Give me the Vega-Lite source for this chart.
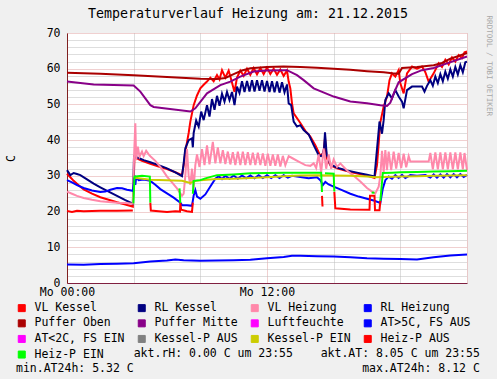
{
"$schema": "https://vega.github.io/schema/vega-lite/v6.json",
"width": 400, "height": 250,
"autosize": {"type": "none"},
"padding": {"left": 67, "top": 33, "right": 30, "bottom": 96},
"background": "#F0F0F0",
"config": {"view": {"fill": "white", "stroke": null}, "font": "DejaVu Sans Mono"},
"title": {"text": "Temperaturverlauf Heizung am: 21.12.2015", "font": "DejaVu Sans Mono", "fontSize": 13.3, "fontWeight": "normal", "color": "black", "anchor": "middle", "frame": "group", "dx": -19, "offset": -5},
"data": {"values": [
{"k":"VL Kessel","s":1,"t":0,"v":30.6},{"k":"VL Kessel","s":1,"t":0.2,"v":29.6},{"k":"VL Kessel","s":1,"t":0.4,"v":28.6},{"k":"VL Kessel","s":1,"t":0.7,"v":27.4},{"k":"VL Kessel","s":1,"t":1,"v":26.2},{"k":"VL Kessel","s":1,"t":1.5,"v":25},{"k":"VL Kessel","s":1,"t":2,"v":24},{"k":"VL Kessel","s":1,"t":2.5,"v":23.3},{"k":"VL Kessel","s":1,"t":3,"v":22.6},{"k":"VL Kessel","s":1,"t":3.5,"v":22},{"k":"VL Kessel","s":1,"t":3.95,"v":21.4},{"k":"VL Kessel","s":1,"t":4.05,"v":35.2},{"k":"VL Kessel","s":1,"t":4.5,"v":34.2},{"k":"VL Kessel","s":1,"t":5,"v":33.4},{"k":"VL Kessel","s":1,"t":5.5,"v":32.6},{"k":"VL Kessel","s":1,"t":6,"v":31.9},{"k":"VL Kessel","s":1,"t":6.5,"v":31},{"k":"VL Kessel","s":1,"t":6.9,"v":30.2},{"k":"VL Kessel","s":1,"t":7.0,"v":33},{"k":"VL Kessel","s":1,"t":7.1,"v":36.8},{"k":"VL Kessel","s":1,"t":7.3,"v":42},{"k":"VL Kessel","s":1,"t":7.4,"v":45.2},{"k":"VL Kessel","s":1,"t":7.6,"v":49.8},{"k":"VL Kessel","s":1,"t":7.8,"v":52.5},{"k":"VL Kessel","s":1,"t":8.0,"v":54.5},{"k":"VL Kessel","s":1,"t":8.2,"v":55.5},{"k":"VL Kessel","s":1,"t":8.4,"v":56.4},{"k":"VL Kessel","s":1,"t":8.6,"v":57.5},{"k":"VL Kessel","s":1,"t":8.8,"v":56.5},{"k":"VL Kessel","s":1,"t":9.0,"v":58.2},{"k":"VL Kessel","s":1,"t":9.15,"v":57},{"k":"VL Kessel","s":1,"t":9.3,"v":59.6},{"k":"VL Kessel","s":1,"t":9.5,"v":57.5},{"k":"VL Kessel","s":1,"t":9.7,"v":59.5},{"k":"VL Kessel","s":1,"t":9.85,"v":57},{"k":"VL Kessel","s":1,"t":10.05,"v":53.5},{"k":"VL Kessel","s":1,"t":10.2,"v":57.5},{"k":"VL Kessel","s":1,"t":10.4,"v":59.5},{"k":"VL Kessel","s":1,"t":10.6,"v":58},{"k":"VL Kessel","s":1,"t":10.8,"v":60},{"k":"VL Kessel","s":1,"t":11.0,"v":58.3},{"k":"VL Kessel","s":1,"t":11.2,"v":60.2},{"k":"VL Kessel","s":1,"t":11.4,"v":58.4},{"k":"VL Kessel","s":1,"t":11.6,"v":60.2},{"k":"VL Kessel","s":1,"t":11.8,"v":58.5},{"k":"VL Kessel","s":1,"t":12.0,"v":60.3},{"k":"VL Kessel","s":1,"t":12.2,"v":58.5},{"k":"VL Kessel","s":1,"t":12.4,"v":60},{"k":"VL Kessel","s":1,"t":12.6,"v":58.3},{"k":"VL Kessel","s":1,"t":12.8,"v":59.8},{"k":"VL Kessel","s":1,"t":13.0,"v":58},{"k":"VL Kessel","s":1,"t":13.2,"v":59.5},{"k":"VL Kessel","s":1,"t":13.3,"v":56.4},{"k":"VL Kessel","s":1,"t":13.4,"v":54.5},{"k":"VL Kessel","s":1,"t":13.5,"v":50.3},{"k":"VL Kessel","s":1,"t":13.6,"v":47.5},{"k":"VL Kessel","s":1,"t":14.0,"v":44.8},{"k":"VL Kessel","s":1,"t":14.3,"v":42.6},{"k":"VL Kessel","s":1,"t":14.6,"v":41},{"k":"VL Kessel","s":1,"t":14.9,"v":38.6},{"k":"VL Kessel","s":1,"t":15.2,"v":35.6},{"k":"VL Kessel","s":1,"t":15.4,"v":36.5},{"k":"VL Kessel","s":1,"t":15.48,"v":40.6},{"k":"VL Kessel","s":1,"t":15.58,"v":35},{"k":"VL Kessel","s":1,"t":15.8,"v":33},{"k":"VL Kessel","s":1,"t":16.2,"v":32.1},{"k":"VL Kessel","s":1,"t":17,"v":31.1},{"k":"VL Kessel","s":1,"t":18,"v":30.1},{"k":"VL Kessel","s":1,"t":18.45,"v":29.4},{"k":"VL Kessel","s":1,"t":18.6,"v":33},{"k":"VL Kessel","s":1,"t":18.8,"v":45},{"k":"VL Kessel","s":1,"t":19.0,"v":49.4},{"k":"VL Kessel","s":1,"t":19.2,"v":52.2},{"k":"VL Kessel","s":1,"t":19.35,"v":56.8},{"k":"VL Kessel","s":1,"t":19.5,"v":58.7},{"k":"VL Kessel","s":1,"t":19.7,"v":57.8},{"k":"VL Kessel","s":1,"t":19.9,"v":59.6},{"k":"VL Kessel","s":1,"t":20.0,"v":55.9},{"k":"VL Kessel","s":1,"t":20.2,"v":53.1},{"k":"VL Kessel","s":1,"t":20.4,"v":58.7},{"k":"VL Kessel","s":1,"t":20.7,"v":60.6},{"k":"VL Kessel","s":1,"t":21.0,"v":60},{"k":"VL Kessel","s":1,"t":21.3,"v":60.6},{"k":"VL Kessel","s":1,"t":21.5,"v":59},{"k":"VL Kessel","s":1,"t":21.7,"v":56.4},{"k":"VL Kessel","s":1,"t":22.0,"v":58.7},{"k":"VL Kessel","s":1,"t":22.3,"v":61.5},{"k":"VL Kessel","s":1,"t":22.5,"v":60.5},{"k":"VL Kessel","s":1,"t":22.7,"v":62.5},{"k":"VL Kessel","s":1,"t":22.9,"v":61.2},{"k":"VL Kessel","s":1,"t":23.1,"v":63.2},{"k":"VL Kessel","s":1,"t":23.3,"v":62},{"k":"VL Kessel","s":1,"t":23.5,"v":63.8},{"k":"VL Kessel","s":1,"t":23.7,"v":63},{"k":"VL Kessel","s":1,"t":23.85,"v":64.6},{"k":"VL Kessel","s":1,"t":24.0,"v":64.8},
{"k":"RL Kessel","s":1,"t":0,"v":31.6},{"k":"RL Kessel","s":1,"t":0.2,"v":30.2},{"k":"RL Kessel","s":1,"t":0.4,"v":30.8},{"k":"RL Kessel","s":1,"t":0.6,"v":30.5},{"k":"RL Kessel","s":1,"t":0.8,"v":30.2},{"k":"RL Kessel","s":1,"t":1.2,"v":29},{"k":"RL Kessel","s":1,"t":1.6,"v":27.8},{"k":"RL Kessel","s":1,"t":2,"v":26.8},{"k":"RL Kessel","s":1,"t":2.5,"v":25.6},{"k":"RL Kessel","s":1,"t":3,"v":24.4},{"k":"RL Kessel","s":1,"t":3.5,"v":23.2},{"k":"RL Kessel","s":1,"t":3.95,"v":22.2},{"k":"RL Kessel","s":1,"t":4.02,"v":35.4},{"k":"RL Kessel","s":1,"t":4.3,"v":35},{"k":"RL Kessel","s":1,"t":4.6,"v":34.4},{"k":"RL Kessel","s":1,"t":5,"v":33.8},{"k":"RL Kessel","s":1,"t":5.5,"v":33},{"k":"RL Kessel","s":1,"t":6,"v":32.1},{"k":"RL Kessel","s":1,"t":6.5,"v":31},{"k":"RL Kessel","s":1,"t":6.9,"v":29.9},{"k":"RL Kessel","s":1,"t":7.0,"v":33.5},{"k":"RL Kessel","s":1,"t":7.1,"v":37.7},{"k":"RL Kessel","s":1,"t":7.3,"v":40},{"k":"RL Kessel","s":1,"t":7.5,"v":40.5},{"k":"RL Kessel","s":1,"t":7.55,"v":38},{"k":"RL Kessel","s":1,"t":7.6,"v":42},{"k":"RL Kessel","s":1,"t":7.75,"v":45.5},{"k":"RL Kessel","s":1,"t":7.9,"v":43.8},{"k":"RL Kessel","s":1,"t":8.05,"v":48},{"k":"RL Kessel","s":1,"t":8.2,"v":45.6},{"k":"RL Kessel","s":1,"t":8.4,"v":49.8},{"k":"RL Kessel","s":1,"t":8.55,"v":46.6},{"k":"RL Kessel","s":1,"t":8.7,"v":51.5},{"k":"RL Kessel","s":1,"t":8.85,"v":48.5},{"k":"RL Kessel","s":1,"t":9.0,"v":52.4},{"k":"RL Kessel","s":1,"t":9.15,"v":49.6},{"k":"RL Kessel","s":1,"t":9.3,"v":53},{"k":"RL Kessel","s":1,"t":9.45,"v":50.8},{"k":"RL Kessel","s":1,"t":9.6,"v":53.5},{"k":"RL Kessel","s":1,"t":9.75,"v":51.2},{"k":"RL Kessel","s":1,"t":9.9,"v":53.5},{"k":"RL Kessel","s":1,"t":10.05,"v":49.8},{"k":"RL Kessel","s":1,"t":10.2,"v":55},{"k":"RL Kessel","s":1,"t":10.35,"v":53.2},{"k":"RL Kessel","s":1,"t":10.5,"v":56.5},{"k":"RL Kessel","s":1,"t":10.65,"v":53.5},{"k":"RL Kessel","s":1,"t":10.8,"v":56.6},{"k":"RL Kessel","s":1,"t":10.95,"v":53.6},{"k":"RL Kessel","s":1,"t":11.1,"v":56.8},{"k":"RL Kessel","s":1,"t":11.25,"v":53.6},{"k":"RL Kessel","s":1,"t":11.4,"v":56.8},{"k":"RL Kessel","s":1,"t":11.55,"v":53.8},{"k":"RL Kessel","s":1,"t":11.7,"v":56.8},{"k":"RL Kessel","s":1,"t":11.85,"v":53.6},{"k":"RL Kessel","s":1,"t":12.0,"v":56.6},{"k":"RL Kessel","s":1,"t":12.15,"v":53.5},{"k":"RL Kessel","s":1,"t":12.3,"v":56.5},{"k":"RL Kessel","s":1,"t":12.45,"v":53.4},{"k":"RL Kessel","s":1,"t":12.6,"v":56.4},{"k":"RL Kessel","s":1,"t":12.75,"v":53.3},{"k":"RL Kessel","s":1,"t":12.9,"v":56.2},{"k":"RL Kessel","s":1,"t":13.05,"v":53.4},{"k":"RL Kessel","s":1,"t":13.2,"v":55.6},{"k":"RL Kessel","s":1,"t":13.3,"v":50.3},{"k":"RL Kessel","s":1,"t":13.45,"v":49.8},{"k":"RL Kessel","s":1,"t":13.6,"v":45.2},{"k":"RL Kessel","s":1,"t":13.8,"v":43.8},{"k":"RL Kessel","s":1,"t":14.0,"v":44.2},{"k":"RL Kessel","s":1,"t":14.2,"v":42.8},{"k":"RL Kessel","s":1,"t":14.5,"v":41.6},{"k":"RL Kessel","s":1,"t":14.8,"v":38.6},{"k":"RL Kessel","s":1,"t":15.1,"v":35.8},{"k":"RL Kessel","s":1,"t":15.3,"v":35.5},{"k":"RL Kessel","s":1,"t":15.42,"v":37.5},{"k":"RL Kessel","s":1,"t":15.48,"v":42.2},{"k":"RL Kessel","s":1,"t":15.58,"v":36},{"k":"RL Kessel","s":1,"t":15.8,"v":33.2},{"k":"RL Kessel","s":1,"t":16.2,"v":32.3},{"k":"RL Kessel","s":1,"t":16.8,"v":31.5},{"k":"RL Kessel","s":1,"t":17.4,"v":30.9},{"k":"RL Kessel","s":1,"t":18,"v":30.3},{"k":"RL Kessel","s":1,"t":18.45,"v":29.8},{"k":"RL Kessel","s":1,"t":18.55,"v":35},{"k":"RL Kessel","s":1,"t":18.65,"v":40},{"k":"RL Kessel","s":1,"t":18.75,"v":45.2},{"k":"RL Kessel","s":1,"t":18.85,"v":43},{"k":"RL Kessel","s":1,"t":18.9,"v":41.8},{"k":"RL Kessel","s":1,"t":19.0,"v":45.6},{"k":"RL Kessel","s":1,"t":19.1,"v":51.2},{"k":"RL Kessel","s":1,"t":19.3,"v":53.1},{"k":"RL Kessel","s":1,"t":19.5,"v":51.7},{"k":"RL Kessel","s":1,"t":19.7,"v":54},{"k":"RL Kessel","s":1,"t":19.9,"v":52.2},{"k":"RL Kessel","s":1,"t":20.1,"v":50.8},{"k":"RL Kessel","s":1,"t":20.2,"v":48.9},{"k":"RL Kessel","s":1,"t":20.4,"v":54},{"k":"RL Kessel","s":1,"t":20.7,"v":55},{"k":"RL Kessel","s":1,"t":21.0,"v":55},{"k":"RL Kessel","s":1,"t":21.3,"v":55},{"k":"RL Kessel","s":1,"t":21.45,"v":53.6},{"k":"RL Kessel","s":1,"t":21.6,"v":55.2},{"k":"RL Kessel","s":1,"t":21.8,"v":56.8},{"k":"RL Kessel","s":1,"t":21.95,"v":55.2},{"k":"RL Kessel","s":1,"t":22.1,"v":57.8},{"k":"RL Kessel","s":1,"t":22.25,"v":56},{"k":"RL Kessel","s":1,"t":22.4,"v":58.5},{"k":"RL Kessel","s":1,"t":22.55,"v":56.5},{"k":"RL Kessel","s":1,"t":22.7,"v":59.2},{"k":"RL Kessel","s":1,"t":22.85,"v":57.2},{"k":"RL Kessel","s":1,"t":23.0,"v":59.8},{"k":"RL Kessel","s":1,"t":23.15,"v":57.8},{"k":"RL Kessel","s":1,"t":23.3,"v":60.5},{"k":"RL Kessel","s":1,"t":23.45,"v":58.4},{"k":"RL Kessel","s":1,"t":23.6,"v":61},{"k":"RL Kessel","s":1,"t":23.75,"v":59},{"k":"RL Kessel","s":1,"t":23.9,"v":61.8},{"k":"RL Kessel","s":1,"t":24.0,"v":62},
{"k":"VL Heizung","s":1,"t":0,"v":25.6},{"k":"VL Heizung","s":1,"t":0.3,"v":25},{"k":"VL Heizung","s":1,"t":0.6,"v":24.4},{"k":"VL Heizung","s":1,"t":1,"v":23.8},{"k":"VL Heizung","s":1,"t":1.5,"v":23.3},{"k":"VL Heizung","s":1,"t":2,"v":22.9},{"k":"VL Heizung","s":1,"t":2.5,"v":22.7},{"k":"VL Heizung","s":1,"t":3,"v":22.5},{"k":"VL Heizung","s":1,"t":3.5,"v":22.4},{"k":"VL Heizung","s":1,"t":3.95,"v":22.2},{"k":"VL Heizung","s":1,"t":4.02,"v":35},{"k":"VL Heizung","s":1,"t":4.1,"v":44.7},{"k":"VL Heizung","s":1,"t":4.15,"v":34.4},{"k":"VL Heizung","s":1,"t":4.25,"v":38.2},{"k":"VL Heizung","s":1,"t":4.35,"v":35.4},{"k":"VL Heizung","s":1,"t":4.5,"v":36.8},{"k":"VL Heizung","s":1,"t":4.6,"v":35.5},{"k":"VL Heizung","s":1,"t":4.75,"v":37},{"k":"VL Heizung","s":1,"t":4.9,"v":36},{"k":"VL Heizung","s":1,"t":5.0,"v":35.5},{"k":"VL Heizung","s":1,"t":5.3,"v":34.2},{"k":"VL Heizung","s":1,"t":5.6,"v":32.5},{"k":"VL Heizung","s":1,"t":5.8,"v":31.2},{"k":"VL Heizung","s":1,"t":6.0,"v":29.8},{"k":"VL Heizung","s":1,"t":6.3,"v":28.2},{"k":"VL Heizung","s":1,"t":6.6,"v":26.5},{"k":"VL Heizung","s":1,"t":6.9,"v":24.4},{"k":"VL Heizung","s":1,"t":7.0,"v":25},{"k":"VL Heizung","s":1,"t":7.1,"v":30},{"k":"VL Heizung","s":1,"t":7.2,"v":37.5},{"k":"VL Heizung","s":1,"t":7.3,"v":30},{"k":"VL Heizung","s":1,"t":7.4,"v":27.5},{"k":"VL Heizung","s":1,"t":7.5,"v":32},{"k":"VL Heizung","s":1,"t":7.6,"v":26.5},{"k":"VL Heizung","s":1,"t":7.7,"v":33},{"k":"VL Heizung","s":1,"t":7.8,"v":36},{"k":"VL Heizung","s":1,"t":7.95,"v":32.5},{"k":"VL Heizung","s":1,"t":8.1,"v":37.5},{"k":"VL Heizung","s":1,"t":8.25,"v":33},{"k":"VL Heizung","s":1,"t":8.4,"v":38.5},{"k":"VL Heizung","s":1,"t":8.55,"v":33.2},{"k":"VL Heizung","s":1,"t":8.75,"v":39.5},{"k":"VL Heizung","s":1,"t":8.9,"v":33.5},{"k":"VL Heizung","s":1,"t":9.05,"v":38},{"k":"VL Heizung","s":1,"t":9.2,"v":33.5},{"k":"VL Heizung","s":1,"t":9.35,"v":37.2},{"k":"VL Heizung","s":1,"t":9.5,"v":33.3},{"k":"VL Heizung","s":1,"t":9.65,"v":36.8},{"k":"VL Heizung","s":1,"t":9.8,"v":33.2},{"k":"VL Heizung","s":1,"t":9.95,"v":36.6},{"k":"VL Heizung","s":1,"t":10.1,"v":33},{"k":"VL Heizung","s":1,"t":10.25,"v":36.8},{"k":"VL Heizung","s":1,"t":10.4,"v":33},{"k":"VL Heizung","s":1,"t":10.55,"v":36.8},{"k":"VL Heizung","s":1,"t":10.7,"v":33},{"k":"VL Heizung","s":1,"t":10.85,"v":36.6},{"k":"VL Heizung","s":1,"t":11.0,"v":33},{"k":"VL Heizung","s":1,"t":11.15,"v":36.5},{"k":"VL Heizung","s":1,"t":11.3,"v":33},{"k":"VL Heizung","s":1,"t":11.45,"v":36.5},{"k":"VL Heizung","s":1,"t":11.6,"v":33},{"k":"VL Heizung","s":1,"t":11.75,"v":36.3},{"k":"VL Heizung","s":1,"t":11.9,"v":32.8},{"k":"VL Heizung","s":1,"t":12.05,"v":36.2},{"k":"VL Heizung","s":1,"t":12.2,"v":32.8},{"k":"VL Heizung","s":1,"t":12.35,"v":36},{"k":"VL Heizung","s":1,"t":12.5,"v":32.8},{"k":"VL Heizung","s":1,"t":12.65,"v":36},{"k":"VL Heizung","s":1,"t":12.8,"v":32.6},{"k":"VL Heizung","s":1,"t":12.95,"v":35.6},{"k":"VL Heizung","s":1,"t":13.1,"v":33},{"k":"VL Heizung","s":1,"t":13.3,"v":35.5},{"k":"VL Heizung","s":1,"t":13.5,"v":35},{"k":"VL Heizung","s":1,"t":13.9,"v":34},{"k":"VL Heizung","s":1,"t":14.3,"v":33},{"k":"VL Heizung","s":1,"t":14.6,"v":32.8},{"k":"VL Heizung","s":1,"t":14.8,"v":33.5},{"k":"VL Heizung","s":1,"t":14.95,"v":32.2},{"k":"VL Heizung","s":1,"t":15.1,"v":36},{"k":"VL Heizung","s":1,"t":15.25,"v":31},{"k":"VL Heizung","s":1,"t":15.4,"v":37.7},{"k":"VL Heizung","s":1,"t":15.55,"v":32},{"k":"VL Heizung","s":1,"t":15.7,"v":36},{"k":"VL Heizung","s":1,"t":15.85,"v":32},{"k":"VL Heizung","s":1,"t":16.0,"v":34.6},{"k":"VL Heizung","s":1,"t":16.2,"v":32.5},{"k":"VL Heizung","s":1,"t":16.4,"v":33.5},{"k":"VL Heizung","s":1,"t":16.8,"v":31.5},{"k":"VL Heizung","s":1,"t":17.2,"v":30},{"k":"VL Heizung","s":1,"t":17.6,"v":28.4},{"k":"VL Heizung","s":1,"t":18.0,"v":26.6},{"k":"VL Heizung","s":1,"t":18.3,"v":25.6},{"k":"VL Heizung","s":1,"t":18.5,"v":25.1},{"k":"VL Heizung","s":1,"t":18.7,"v":27},{"k":"VL Heizung","s":1,"t":18.8,"v":30},{"k":"VL Heizung","s":1,"t":18.9,"v":37},{"k":"VL Heizung","s":1,"t":19.0,"v":31},{"k":"VL Heizung","s":1,"t":19.1,"v":37.2},{"k":"VL Heizung","s":1,"t":19.2,"v":31.6},{"k":"VL Heizung","s":1,"t":19.3,"v":36.8},{"k":"VL Heizung","s":1,"t":19.45,"v":31.6},{"k":"VL Heizung","s":1,"t":19.6,"v":36.8},{"k":"VL Heizung","s":1,"t":19.75,"v":32},{"k":"VL Heizung","s":1,"t":19.9,"v":36.4},{"k":"VL Heizung","s":1,"t":20.05,"v":32.2},{"k":"VL Heizung","s":1,"t":20.2,"v":36.2},{"k":"VL Heizung","s":1,"t":20.35,"v":32.4},{"k":"VL Heizung","s":1,"t":20.5,"v":35.5},{"k":"VL Heizung","s":1,"t":20.6,"v":34},{"k":"VL Heizung","s":1,"t":21.2,"v":34},{"k":"VL Heizung","s":1,"t":21.7,"v":34},{"k":"VL Heizung","s":1,"t":21.8,"v":36.4},{"k":"VL Heizung","s":1,"t":21.95,"v":31.8},{"k":"VL Heizung","s":1,"t":22.1,"v":36.6},{"k":"VL Heizung","s":1,"t":22.25,"v":31.8},{"k":"VL Heizung","s":1,"t":22.4,"v":36.6},{"k":"VL Heizung","s":1,"t":22.55,"v":31.8},{"k":"VL Heizung","s":1,"t":22.7,"v":36.6},{"k":"VL Heizung","s":1,"t":22.85,"v":31.8},{"k":"VL Heizung","s":1,"t":23.0,"v":36.6},{"k":"VL Heizung","s":1,"t":23.15,"v":31.8},{"k":"VL Heizung","s":1,"t":23.3,"v":36.6},{"k":"VL Heizung","s":1,"t":23.45,"v":31.8},{"k":"VL Heizung","s":1,"t":23.6,"v":36.6},{"k":"VL Heizung","s":1,"t":23.75,"v":31.8},{"k":"VL Heizung","s":1,"t":23.85,"v":36.4},{"k":"VL Heizung","s":1,"t":24.0,"v":31.6},
{"k":"RL Heizung","s":1,"t":0,"v":28.8},{"k":"RL Heizung","s":1,"t":0.3,"v":28.2},{"k":"RL Heizung","s":1,"t":0.6,"v":27.4},{"k":"RL Heizung","s":1,"t":1.0,"v":26.6},{"k":"RL Heizung","s":1,"t":1.5,"v":25.9},{"k":"RL Heizung","s":1,"t":2.0,"v":25.5},{"k":"RL Heizung","s":1,"t":2.3,"v":25.6},{"k":"RL Heizung","s":1,"t":2.6,"v":26.1},{"k":"RL Heizung","s":1,"t":3.0,"v":26.6},{"k":"RL Heizung","s":1,"t":3.3,"v":26.5},{"k":"RL Heizung","s":1,"t":3.6,"v":26.1},{"k":"RL Heizung","s":1,"t":3.95,"v":25.8},{"k":"RL Heizung","s":1,"t":4.05,"v":29.5},{"k":"RL Heizung","s":1,"t":4.1,"v":27.5},{"k":"RL Heizung","s":1,"t":4.15,"v":29.6},{"k":"RL Heizung","s":1,"t":4.3,"v":28.8},{"k":"RL Heizung","s":1,"t":4.6,"v":29},{"k":"RL Heizung","s":1,"t":5.0,"v":28.6},{"k":"RL Heizung","s":1,"t":5.3,"v":27.5},{"k":"RL Heizung","s":1,"t":5.6,"v":26.3},{"k":"RL Heizung","s":1,"t":6.0,"v":25.1},{"k":"RL Heizung","s":1,"t":6.4,"v":23.9},{"k":"RL Heizung","s":1,"t":6.8,"v":22.5},{"k":"RL Heizung","s":1,"t":6.9,"v":21.8},{"k":"RL Heizung","s":1,"t":7.2,"v":21.8},{"k":"RL Heizung","s":1,"t":7.5,"v":21.6},{"k":"RL Heizung","s":1,"t":7.6,"v":24.5},{"k":"RL Heizung","s":1,"t":7.7,"v":26},{"k":"RL Heizung","s":1,"t":7.8,"v":24.2},{"k":"RL Heizung","s":1,"t":8.0,"v":23.6},{"k":"RL Heizung","s":1,"t":8.3,"v":24.8},{"k":"RL Heizung","s":1,"t":8.6,"v":27},{"k":"RL Heizung","s":1,"t":8.9,"v":29.2},{"k":"RL Heizung","s":1,"t":9.1,"v":29.9},{"k":"RL Heizung","s":1,"t":9.3,"v":29.1},{"k":"RL Heizung","s":1,"t":9.5,"v":30},{"k":"RL Heizung","s":1,"t":9.75,"v":29.2},{"k":"RL Heizung","s":1,"t":10,"v":30.1},{"k":"RL Heizung","s":1,"t":10.25,"v":29.2},{"k":"RL Heizung","s":1,"t":10.5,"v":30.1},{"k":"RL Heizung","s":1,"t":10.75,"v":29.3},{"k":"RL Heizung","s":1,"t":11,"v":30.1},{"k":"RL Heizung","s":1,"t":11.25,"v":29.3},{"k":"RL Heizung","s":1,"t":11.5,"v":30.2},{"k":"RL Heizung","s":1,"t":11.75,"v":29.4},{"k":"RL Heizung","s":1,"t":12,"v":30.2},{"k":"RL Heizung","s":1,"t":12.25,"v":29.4},{"k":"RL Heizung","s":1,"t":12.5,"v":30.2},{"k":"RL Heizung","s":1,"t":12.75,"v":29.4},{"k":"RL Heizung","s":1,"t":13,"v":30.2},{"k":"RL Heizung","s":1,"t":13.25,"v":29.5},{"k":"RL Heizung","s":1,"t":13.5,"v":30},{"k":"RL Heizung","s":1,"t":14.0,"v":29.7},{"k":"RL Heizung","s":1,"t":14.5,"v":29.3},{"k":"RL Heizung","s":1,"t":15.0,"v":29.6},{"k":"RL Heizung","s":1,"t":15.2,"v":28.8},{"k":"RL Heizung","s":1,"t":15.35,"v":27.4},{"k":"RL Heizung","s":1,"t":15.5,"v":28.3},{"k":"RL Heizung","s":1,"t":15.7,"v":27.6},{"k":"RL Heizung","s":1,"t":16.0,"v":27},{"k":"RL Heizung","s":1,"t":16.5,"v":26},{"k":"RL Heizung","s":1,"t":17.0,"v":25},{"k":"RL Heizung","s":1,"t":17.5,"v":24.2},{"k":"RL Heizung","s":1,"t":18.0,"v":23.6},{"k":"RL Heizung","s":1,"t":18.4,"v":23.1},{"k":"RL Heizung","s":1,"t":18.8,"v":22.4},{"k":"RL Heizung","s":1,"t":18.95,"v":26.5},{"k":"RL Heizung","s":1,"t":19.1,"v":28.8},{"k":"RL Heizung","s":1,"t":19.3,"v":29.8},{"k":"RL Heizung","s":1,"t":19.5,"v":29.2},{"k":"RL Heizung","s":1,"t":19.7,"v":30.2},{"k":"RL Heizung","s":1,"t":19.9,"v":29.4},{"k":"RL Heizung","s":1,"t":20.1,"v":30.3},{"k":"RL Heizung","s":1,"t":20.3,"v":29.4},{"k":"RL Heizung","s":1,"t":20.6,"v":30.2},{"k":"RL Heizung","s":1,"t":21,"v":30},{"k":"RL Heizung","s":1,"t":21.5,"v":30.2},{"k":"RL Heizung","s":1,"t":21.8,"v":29.5},{"k":"RL Heizung","s":1,"t":22,"v":30.4},{"k":"RL Heizung","s":1,"t":22.2,"v":29.5},{"k":"RL Heizung","s":1,"t":22.4,"v":30.4},{"k":"RL Heizung","s":1,"t":22.6,"v":29.5},{"k":"RL Heizung","s":1,"t":22.8,"v":30.5},{"k":"RL Heizung","s":1,"t":23,"v":29.6},{"k":"RL Heizung","s":1,"t":23.2,"v":30.5},{"k":"RL Heizung","s":1,"t":23.4,"v":29.6},{"k":"RL Heizung","s":1,"t":23.6,"v":30.5},{"k":"RL Heizung","s":1,"t":23.8,"v":29.7},{"k":"RL Heizung","s":1,"t":24,"v":30.3},
{"k":"Puffer Oben","s":1,"t":0,"v":58.9},{"k":"Puffer Oben","s":1,"t":2,"v":58.6},{"k":"Puffer Oben","s":1,"t":4,"v":58.2},{"k":"Puffer Oben","s":1,"t":6,"v":57.7},{"k":"Puffer Oben","s":1,"t":8,"v":57.2},{"k":"Puffer Oben","s":1,"t":9,"v":57.1},{"k":"Puffer Oben","s":1,"t":9.5,"v":57.4},{"k":"Puffer Oben","s":1,"t":10,"v":58.5},{"k":"Puffer Oben","s":1,"t":10.5,"v":59.5},{"k":"Puffer Oben","s":1,"t":11,"v":60.1},{"k":"Puffer Oben","s":1,"t":12,"v":60.5},{"k":"Puffer Oben","s":1,"t":13,"v":60.6},{"k":"Puffer Oben","s":1,"t":14,"v":60.5},{"k":"Puffer Oben","s":1,"t":15,"v":60.3},{"k":"Puffer Oben","s":1,"t":16,"v":60},{"k":"Puffer Oben","s":1,"t":17,"v":59.7},{"k":"Puffer Oben","s":1,"t":18,"v":59.3},{"k":"Puffer Oben","s":1,"t":19,"v":59},{"k":"Puffer Oben","s":1,"t":19.5,"v":58.7},{"k":"Puffer Oben","s":1,"t":19.9,"v":58.6},{"k":"Puffer Oben","s":1,"t":20.1,"v":60.2},{"k":"Puffer Oben","s":1,"t":21,"v":60.5},{"k":"Puffer Oben","s":1,"t":22,"v":61},{"k":"Puffer Oben","s":1,"t":22.5,"v":61.6},{"k":"Puffer Oben","s":1,"t":23,"v":62.8},{"k":"Puffer Oben","s":1,"t":23.5,"v":63.6},{"k":"Puffer Oben","s":1,"t":24,"v":64.4},
{"k":"Puffer Mitte","s":1,"t":0,"v":56.4},{"k":"Puffer Mitte","s":1,"t":1.6,"v":55.6},{"k":"Puffer Mitte","s":1,"t":4,"v":55.3},{"k":"Puffer Mitte","s":1,"t":4.4,"v":53.6},{"k":"Puffer Mitte","s":1,"t":5,"v":49.8},{"k":"Puffer Mitte","s":1,"t":5.2,"v":49.3},{"k":"Puffer Mitte","s":1,"t":7.4,"v":48},{"k":"Puffer Mitte","s":1,"t":7.7,"v":48.9},{"k":"Puffer Mitte","s":1,"t":8.4,"v":53.1},{"k":"Puffer Mitte","s":1,"t":9.2,"v":55.4},{"k":"Puffer Mitte","s":1,"t":9.8,"v":56.4},{"k":"Puffer Mitte","s":1,"t":10.4,"v":57.8},{"k":"Puffer Mitte","s":1,"t":11.2,"v":59.2},{"k":"Puffer Mitte","s":1,"t":12,"v":59.5},{"k":"Puffer Mitte","s":1,"t":13.2,"v":59.6},{"k":"Puffer Mitte","s":1,"t":13.8,"v":58.2},{"k":"Puffer Mitte","s":1,"t":14.2,"v":56.8},{"k":"Puffer Mitte","s":1,"t":14.8,"v":54.5},{"k":"Puffer Mitte","s":1,"t":16,"v":52.2},{"k":"Puffer Mitte","s":1,"t":17,"v":50.8},{"k":"Puffer Mitte","s":1,"t":18,"v":50.3},{"k":"Puffer Mitte","s":1,"t":18.8,"v":49.8},{"k":"Puffer Mitte","s":1,"t":19.2,"v":49.6},{"k":"Puffer Mitte","s":1,"t":19.4,"v":50.5},{"k":"Puffer Mitte","s":1,"t":19.6,"v":53},{"k":"Puffer Mitte","s":1,"t":19.9,"v":56.2},{"k":"Puffer Mitte","s":1,"t":20.7,"v":58.5},{"k":"Puffer Mitte","s":1,"t":21.3,"v":59.6},{"k":"Puffer Mitte","s":1,"t":22,"v":60.2},{"k":"Puffer Mitte","s":1,"t":22.8,"v":61.5},{"k":"Puffer Mitte","s":1,"t":24,"v":63.4},
{"k":"Kessel-P EIN","s":1,"t":4.05,"v":29.5},{"k":"Kessel-P EIN","s":1,"t":5,"v":28.9},{"k":"Kessel-P EIN","s":1,"t":6,"v":28.8},{"k":"Kessel-P EIN","s":1,"t":6.9,"v":28.6},{"k":"Kessel-P EIN","s":1,"t":7.4,"v":28.0},{"k":"Kessel-P EIN","s":1,"t":7.7,"v":28.6},{"k":"Kessel-P EIN","s":1,"t":8,"v":28.8},{"k":"Kessel-P EIN","s":1,"t":9,"v":29.1},{"k":"Kessel-P EIN","s":1,"t":10,"v":29.2},{"k":"Kessel-P EIN","s":1,"t":11,"v":29.4},{"k":"Kessel-P EIN","s":1,"t":12,"v":29.6},{"k":"Kessel-P EIN","s":1,"t":13,"v":29.9},{"k":"Kessel-P EIN","s":1,"t":14,"v":30.1},{"k":"Kessel-P EIN","s":1,"t":15,"v":30.2},{"k":"Kessel-P EIN","s":1,"t":16,"v":30.1},{"k":"Kessel-P EIN","s":1,"t":17,"v":30},{"k":"Kessel-P EIN","s":1,"t":18,"v":29.8},{"k":"Kessel-P EIN","s":1,"t":18.5,"v":29.6},{"k":"Kessel-P EIN","s":1,"t":19,"v":29.7},{"k":"Kessel-P EIN","s":1,"t":20,"v":29.8},{"k":"Kessel-P EIN","s":1,"t":21,"v":29.9},{"k":"Kessel-P EIN","s":1,"t":22,"v":30},{"k":"Kessel-P EIN","s":1,"t":23,"v":30.1},{"k":"Kessel-P EIN","s":1,"t":24,"v":30.2},
{"k":"Heiz-P AUS","s":1,"t":0,"v":20.2},{"k":"Heiz-P AUS","s":1,"t":0.3,"v":19.9},{"k":"Heiz-P AUS","s":1,"t":0.6,"v":20.2},{"k":"Heiz-P AUS","s":1,"t":1,"v":20.1},{"k":"Heiz-P AUS","s":1,"t":2,"v":20.2},{"k":"Heiz-P AUS","s":1,"t":3,"v":20.2},{"k":"Heiz-P AUS","s":1,"t":3.95,"v":20.3},
{"k":"Heiz-P AUS","s":2,"t":5.0,"v":22.5},{"k":"Heiz-P AUS","s":2,"t":5.03,"v":20.3},{"k":"Heiz-P AUS","s":2,"t":5.5,"v":20.1},{"k":"Heiz-P AUS","s":2,"t":6,"v":19.9},{"k":"Heiz-P AUS","s":2,"t":6.5,"v":20.1},{"k":"Heiz-P AUS","s":2,"t":6.78,"v":20},{"k":"Heiz-P AUS","s":2,"t":6.8,"v":22.4},{"k":"Heiz-P AUS","s":2,"t":6.85,"v":20.5},{"k":"Heiz-P AUS","s":2,"t":7.2,"v":20.1},{"k":"Heiz-P AUS","s":2,"t":7.5,"v":19.9},{"k":"Heiz-P AUS","s":2,"t":7.55,"v":22.5},
{"k":"Heiz-P AUS","s":3,"t":15.3,"v":24.4},{"k":"Heiz-P AUS","s":3,"t":15.33,"v":21.4},
{"k":"Heiz-P AUS","s":4,"t":16.04,"v":25.5},{"k":"Heiz-P AUS","s":4,"t":16.1,"v":20.9},{"k":"Heiz-P AUS","s":4,"t":17,"v":20.6},{"k":"Heiz-P AUS","s":4,"t":18.15,"v":20.5},{"k":"Heiz-P AUS","s":4,"t":18.18,"v":24.4},{"k":"Heiz-P AUS","s":4,"t":18.45,"v":24.4},{"k":"Heiz-P AUS","s":4,"t":18.48,"v":20.4},{"k":"Heiz-P AUS","s":4,"t":18.75,"v":20.4},{"k":"Heiz-P AUS","s":4,"t":18.8,"v":23},
{"k":"Heiz-P EIN","s":1,"t":3.98,"v":22.3},{"k":"Heiz-P EIN","s":1,"t":4.05,"v":29.8},{"k":"Heiz-P EIN","s":1,"t":4.5,"v":30},{"k":"Heiz-P EIN","s":1,"t":4.97,"v":29.8},{"k":"Heiz-P EIN","s":1,"t":5.0,"v":22.5},
{"k":"Heiz-P EIN","s":2,"t":6.75,"v":26.5},{"k":"Heiz-P EIN","s":2,"t":6.8,"v":22.4},
{"k":"Heiz-P EIN","s":3,"t":7.55,"v":25},{"k":"Heiz-P EIN","s":3,"t":7.6,"v":28.6},{"k":"Heiz-P EIN","s":3,"t":8,"v":28.8},{"k":"Heiz-P EIN","s":3,"t":8.3,"v":29.3},{"k":"Heiz-P EIN","s":3,"t":9,"v":30.2},{"k":"Heiz-P EIN","s":3,"t":10,"v":30.4},{"k":"Heiz-P EIN","s":3,"t":11,"v":30.7},{"k":"Heiz-P EIN","s":3,"t":12,"v":30.8},{"k":"Heiz-P EIN","s":3,"t":13,"v":30.9},{"k":"Heiz-P EIN","s":3,"t":14,"v":30.9},{"k":"Heiz-P EIN","s":3,"t":15.25,"v":30.9},{"k":"Heiz-P EIN","s":3,"t":15.3,"v":25.5},
{"k":"Heiz-P EIN","s":4,"t":15.48,"v":30.7},{"k":"Heiz-P EIN","s":4,"t":16.0,"v":30.6},{"k":"Heiz-P EIN","s":4,"t":16.04,"v":25.6},
{"k":"Heiz-P EIN","s":5,"t":18.28,"v":25.3},{"k":"Heiz-P EIN","s":5,"t":18.45,"v":25.3},
{"k":"Heiz-P EIN","s":6,"t":18.8,"v":23},{"k":"Heiz-P EIN","s":6,"t":18.95,"v":30.8},{"k":"Heiz-P EIN","s":6,"t":19.5,"v":30.9},{"k":"Heiz-P EIN","s":6,"t":20,"v":31},{"k":"Heiz-P EIN","s":6,"t":21,"v":31.1},{"k":"Heiz-P EIN","s":6,"t":22,"v":31.2},{"k":"Heiz-P EIN","s":6,"t":23,"v":31.3},{"k":"Heiz-P EIN","s":6,"t":24,"v":31.4},
{"k":"AT>5C, FS AUS","s":1,"t":0,"v":5.2},{"k":"AT>5C, FS AUS","s":1,"t":1,"v":5.1},{"k":"AT>5C, FS AUS","s":1,"t":2,"v":5.3},{"k":"AT>5C, FS AUS","s":1,"t":3,"v":5.4},{"k":"AT>5C, FS AUS","s":1,"t":4,"v":5.5},{"k":"AT>5C, FS AUS","s":1,"t":5,"v":6.0},{"k":"AT>5C, FS AUS","s":1,"t":6,"v":6.3},{"k":"AT>5C, FS AUS","s":1,"t":6.5,"v":6.6},{"k":"AT>5C, FS AUS","s":1,"t":7,"v":6.4},{"k":"AT>5C, FS AUS","s":1,"t":8,"v":6.2},{"k":"AT>5C, FS AUS","s":1,"t":9,"v":6.3},{"k":"AT>5C, FS AUS","s":1,"t":10,"v":6.4},{"k":"AT>5C, FS AUS","s":1,"t":11,"v":6.5},{"k":"AT>5C, FS AUS","s":1,"t":12,"v":6.9},{"k":"AT>5C, FS AUS","s":1,"t":13,"v":7.3},{"k":"AT>5C, FS AUS","s":1,"t":13.5,"v":7.6},{"k":"AT>5C, FS AUS","s":1,"t":14,"v":7.6},{"k":"AT>5C, FS AUS","s":1,"t":15,"v":7.5},{"k":"AT>5C, FS AUS","s":1,"t":16,"v":7.4},{"k":"AT>5C, FS AUS","s":1,"t":17,"v":7.2},{"k":"AT>5C, FS AUS","s":1,"t":18,"v":6.9},{"k":"AT>5C, FS AUS","s":1,"t":19,"v":6.8},{"k":"AT>5C, FS AUS","s":1,"t":20,"v":6.7},{"k":"AT>5C, FS AUS","s":1,"t":21,"v":6.6},{"k":"AT>5C, FS AUS","s":1,"t":22,"v":7.2},{"k":"AT>5C, FS AUS","s":1,"t":23,"v":7.7},{"k":"AT>5C, FS AUS","s":1,"t":24,"v":8.0}
]},
"layer": [
{"transform": [{"filter": "datum.k !== 'AT>5C, FS AUS'"}],
 "mark": {"type": "line", "strokeWidth": 2},
 "encoding": {
  "x": {"field": "t", "type": "quantitative", "scale": {"domain": [0, 24], "nice": false, "zero": false},
        "axis": {"values": [0,1,2,3,4,5,6,7,8,9,10,11,12,13,14,15,16,17,18,19,20,21,22,23,24], "title": null, "grid": true,
                 "gridColor": {"condition": {"test": "datum.value % 6 === 0", "value": "#E0A0A0"}, "value": "#BDBDBD"},
                 "gridDash": [1, 1], "gridWidth": 1, "ticks": false, "domain": true, "domainColor": "#802040", "domainWidth": 1,
                 "labelExpr": "datum.value === 0 ? 'Mo 00:00' : (datum.value === 12 ? 'Mo 12:00' : '')",
                 "labelFont": "DejaVu Sans Mono", "labelFontSize": 11.5, "labelColor": "black", "labelPadding": 3,
                 "labelFlush": false, "labelOverlap": false}},
  "y": {"field": "v", "type": "quantitative", "scale": {"domain": [0, 70], "nice": false},
        "axis": {"values": [0,2,4,6,8,10,12,14,16,18,20,22,24,26,28,30,32,34,36,38,40,42,44,46,48,50,52,54,56,58,60,62,64,66,68,70],
                 "title": "C", "titleFont": "DejaVu Sans Mono", "titleFontSize": 11.5, "titleFontWeight": "normal", "titleColor": "black", "titlePadding": 30,
                 "grid": true, "gridColor": {"condition": {"test": "datum.value % 10 === 0", "value": "#E0A0A0"}, "value": "#BDBDBD"},
                 "gridDash": [1, 1], "gridWidth": 1, "ticks": false, "domain": true, "domainColor": "#802020", "domainWidth": 1,
                 "labelExpr": "datum.value % 10 === 0 ? datum.label : ''",
                 "labelFont": "DejaVu Sans Mono", "labelFontSize": 11.5, "labelColor": "black", "labelPadding": 7, "labelOverlap": false}},
  "color": {"field": "k", "type": "nominal",
    "scale": {"domain": ["VL Kessel","RL Kessel","VL Heizung","RL Heizung","Puffer Oben","Puffer Mitte","Luftfeuchte","AT>5C, FS AUS","AT<2C, FS EIN","Kessel-P AUS","Kessel-P EIN","Heiz-P AUS","Heiz-P EIN"],
              "range": ["#FF0000","#000080","#FF88AA","#0000FF","#AA0000","#880088","#FF00FF","#0000FF","#FF00FF","#808080","#CCCC00","#FF0000","#00FF00"]},
    "legend": {"orient": "none", "legendX": -51, "legendY": 269, "direction": "horizontal", "columns": 4, "gridAlign": "each",
               "columnPadding": 11, "rowPadding": 2.6, "padding": 0, "symbolType": "square", "symbolSize": 49,
               "symbolStrokeWidth": 1, "symbolStrokeColor": "black", "symbolOffset": 0, "labelOffset": 7,
               "labelFont": "DejaVu Sans Mono", "labelFontSize": 11.5, "labelColor": "black", "labelLimit": 300,
               "title": ["\u200b\u00a0\u00a0\u00a0\u00a0\u00a0\u00a0\u00a0\u00a0\u00a0\u00a0\u00a0\u00a0\u00a0\u00a0\u00a0\u00a0\u00a0akt.rH: 0.00 C um 23:55\u00a0\u00a0\u00a0\u00a0akt.AT: 8.05 C um 23:55",
                         "min.AT24h: 5.32 C\u00a0\u00a0\u00a0\u00a0\u00a0\u00a0\u00a0\u00a0\u00a0\u00a0\u00a0\u00a0\u00a0\u00a0\u00a0\u00a0\u00a0\u00a0\u00a0\u00a0\u00a0\u00a0\u00a0\u00a0\u00a0\u00a0\u00a0\u00a0\u00a0\u00a0\u00a0\u00a0\u00a0max.AT24h: 8.12 C"],
               "titleOrient": "bottom", "titleAnchor": "start", "titleAlign": "left", "titleFont": "DejaVu Sans Mono", "titleFontSize": 11.5,
               "titleFontWeight": "normal", "titleColor": "black", "titlePadding": -12, "titleLineHeight": 15.3, "titleLimit": 600,
               "encode": {"symbols": {"update": {"fill": {"scale": "color", "field": "value"}, "stroke": {"value": "black"}, "strokeWidth": {"value": 1}, "opacity": {"value": 1}}}}}},
  "detail": {"field": "s", "type": "nominal"}
 }},
{"transform": [{"filter": "datum.k === 'AT>5C, FS AUS'"}],
 "mark": {"type": "line", "strokeWidth": 2},
 "encoding": {
  "x": {"field": "t", "type": "quantitative"},
  "y": {"field": "v", "type": "quantitative",
        "axis": {"orient": "right", "title": "RRDTOOL / TOBI OETIKER", "labels": false, "ticks": false, "domain": false, "grid": false,
                 "titleAngle": 90, "titleFont": "DejaVu Sans Mono", "titleFontSize": 7.6, "titleFontWeight": "normal", "titleColor": "#A8A8A8",
                 "titleX": 21.5, "titleY": -18, "titleAlign": "left", "titleBaseline": "middle"}},
  "color": {"field": "k", "type": "nominal"},
  "detail": {"field": "s", "type": "nominal"}
 }}
],
"resolve": {"axis": {"y": "independent"}}
}
